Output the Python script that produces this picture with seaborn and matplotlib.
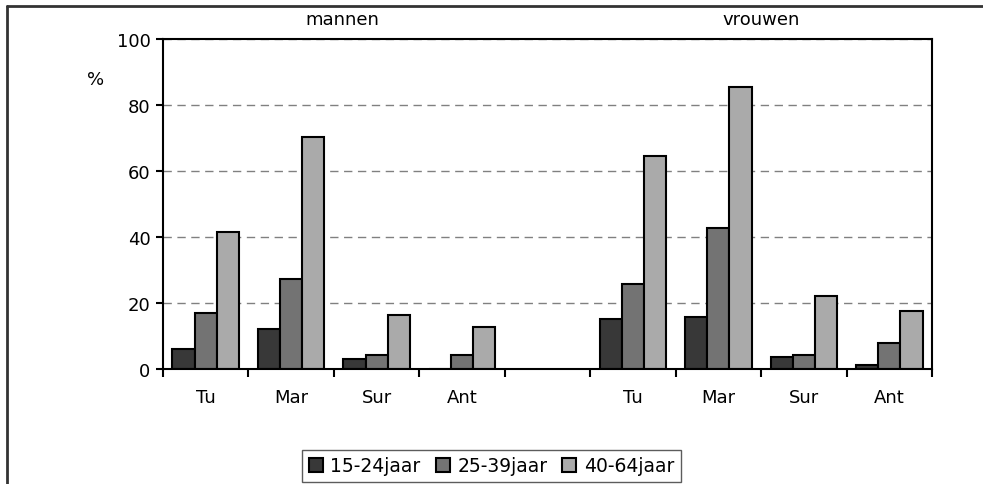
import numpy as np
import pandas as pd
import matplotlib
matplotlib.use('Agg')
import matplotlib.pyplot as plt
from matplotlib.lines import Line2D
import seaborn as sns

# values (%)
regions = ['Tu', 'Mar', 'Sur', 'Ant']
ages = ['15-24jaar', '25-39jaar', '40-64jaar']
groups = ['mannen', 'vrouwen']

mannen_15_24 = [6.1, 12.1, 3.1, 0.0]
mannen_25_39 = [17.1, 27.4, 4.1, 4.1]
mannen_40_64 = [41.5, 70.3, 16.4, 12.7]
vrouwen_15_24 = [15.2, 15.8, 3.6, 1.1]
vrouwen_25_39 = [25.7, 42.6, 4.2, 7.9]
vrouwen_40_64 = [64.4, 85.5, 22.0, 17.6]

colors = ['#383838', '#737373', '#aaaaaa']

# long table for seaborn
series = {
    ('mannen', '15-24jaar'): mannen_15_24,
    ('mannen', '25-39jaar'): mannen_25_39,
    ('mannen', '40-64jaar'): mannen_40_64,
    ('vrouwen', '15-24jaar'): vrouwen_15_24,
    ('vrouwen', '25-39jaar'): vrouwen_25_39,
    ('vrouwen', '40-64jaar'): vrouwen_40_64,
}
rows = []
for (sex, age), vals in series.items():
    for reg, v in zip(regions, vals):
        rows.append({'slot': f'{sex}-{reg}', 'age': age, 'pct': v})
df = pd.DataFrame(rows)

order = [f'mannen-{r}' for r in regions] + ['gap'] + [f'vrouwen-{r}' for r in regions]
tick_labels = regions + [''] + regions

sns.set_style('white')
plt.rcParams['font.family'] = ['DejaVu Sans']
plt.rcParams['text.color'] = 'black'
plt.rcParams['xtick.color'] = 'black'
plt.rcParams['ytick.color'] = 'black'

fig = plt.figure(figsize=(9.83, 4.85), dpi=100)
ax = fig.add_axes([163 / 983, 1 - 370 / 485, (932 - 163) / 983, 330 / 485])

sns.barplot(data=df, x='slot', y='pct', hue='age', order=order, hue_order=ages,
            palette=colors, edgecolor='black', linewidth=1.5, width=0.78,
            saturation=1, ax=ax)

handles, labels = ax.get_legend_handles_labels()
ax.legend_.remove()

ax.set_xlim(-0.5, len(order) - 0.5)
ax.set_ylim(0, 100)
ax.set_yticks(np.arange(0, 101, 20))
ax.set_xlabel('')
ax.set_ylabel('')

# ticks at slot boundaries, labels at slot centres
ax.set_xticks(np.arange(-0.5, len(order), 1.0))
ax.set_xticklabels([])
ax.set_xticks(np.arange(len(order)), minor=True)
ax.set_xticklabels(tick_labels, minor=True, fontsize=13)
ax.tick_params(axis='x', which='major', direction='out', length=6, width=1.5, bottom=True)
ax.tick_params(axis='x', which='minor', length=0, pad=14)
ax.tick_params(axis='y', direction='out', length=5, width=1.5, left=True, labelsize=13, pad=4)

ax.set_axisbelow(True)
ax.yaxis.grid(True, color='#808080', linestyle=(0, (6, 4)), linewidth=1)
ax.xaxis.grid(False)
for s in ax.spines.values():
    s.set_visible(True)
    s.set_color('black')
    s.set_linewidth(1.5)

# group titles and unit
ax.text(1.6, 1.06, 'mannen', transform=ax.get_xaxis_transform(), ha='center', va='center', fontsize=13)
ax.text(6.5, 1.06, 'vrouwen', transform=ax.get_xaxis_transform(), ha='center', va='center', fontsize=13)
ax.text(-0.088, 0.88, '%', transform=ax.transAxes, ha='center', va='center', fontsize=13)

fig.legend(handles, labels, loc='lower center', bbox_to_anchor=(0.5, 0.004), ncol=3,
           frameon=True, fancybox=False, edgecolor='#333333', fontsize=13.5,
           handlelength=0.75, handleheight=0.75, handletextpad=0.4, columnspacing=0.8,
           borderpad=0.35, borderaxespad=0)
fig.legends[0].get_frame().set_linewidth(1)

# outer frame (top and left only)
fig.add_artist(Line2D([7 / 983, 1], [1 - 7 / 485] * 2, color='#333333', lw=2, transform=fig.transFigure))
fig.add_artist(Line2D([7 / 983] * 2, [0, 1 - 7 / 485], color='#333333', lw=2, transform=fig.transFigure))

fig.savefig('out.png', dpi=100)
